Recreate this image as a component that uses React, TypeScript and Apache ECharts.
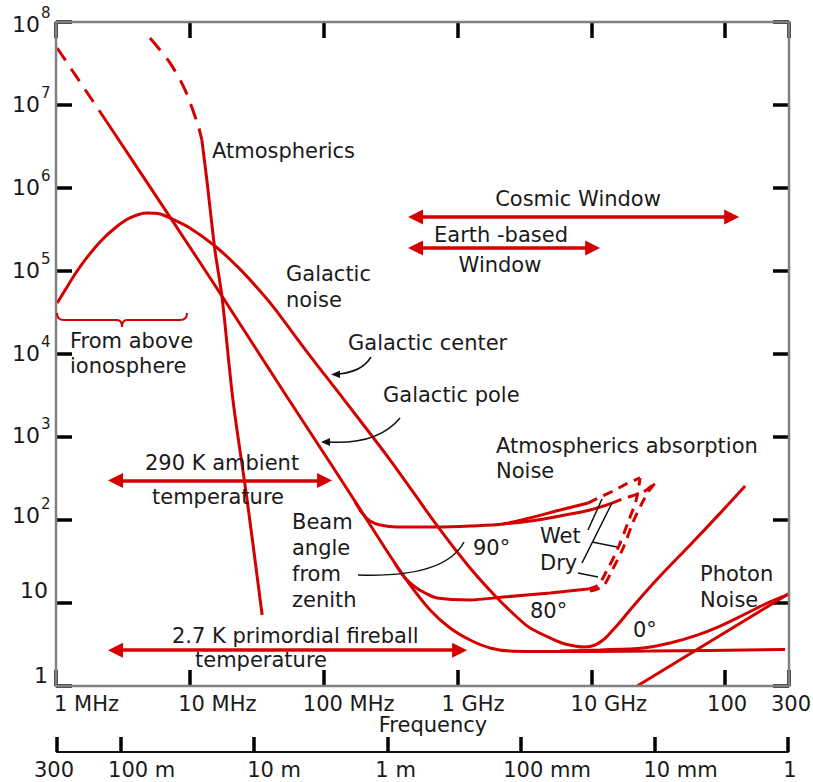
import React, { useEffect, useRef } from "react";
import * as echarts from "echarts";

// ---------------- data: frequency in MHz, noise temperature in K ----------------
const galacticNoise: [number, number][] = [
  [1.02, 41100], [1.17, 59000], [1.39, 92000], [1.65, 136000], [2.13, 224000],
  [2.76, 330000], [3.57, 436000], [4.79, 500000], [5.99, 486000], [7.36, 424000],
  [10.0, 330000], [15.4, 200000], [23.2, 109000], [33.6, 57000], [42.5, 36200],
  [79.1, 9500], [140, 2900], [314, 528],
  [716, 82.4], [1242, 26.4], [1978, 11.5], [2938, 6.24], [3491, 5.0], [4921, 3.79],
  [6370, 3.21], [8990, 2.95], [10670, 3.12], [12250, 3.58],
  [13830, 4.35], [16410, 5.90], [21240, 9.72], [32680, 21.1], [54710, 50.0],
  [91840, 121], [141000, 257],
];
const galacticPoleDashed: [number, number][] = [[1.02, 4.86e7], [2.4, 6.24e6]];
const galacticPole: [number, number][] = [
  [2.4, 6.24e6], [7.36, 4.11e5], [16.8, 5.43e4], [53.3, 3034], [112, 486],
  [211, 100], [314, 36.8], [442, 16.5], [624, 8.24], [880, 5.0], [1242, 3.58],
  [1753, 2.87], [2473, 2.64], [4921, 2.6], [27490, 2.64], [280700, 2.75],
];
const atmosphericsDashed: [number, number][] = [
  [5.04, 6.41e7], [7.11, 3.21e7], [9.21, 1.52e7], [11.5, 5.74e6], [12.3, 3.79e6],
];
const atmospherics: [number, number][] = [
  [12.3, 3.79e6], [13.4, 1.25e6], [15.4, 1.79e5], [17.4, 4.86e4], [21.0, 2790],
  [26.8, 174], [34.7, 7.17],
];
const beam90Wet: [number, number][] = [
  [172, 165], [194, 121], [222, 97.2], [264, 87.1], [354, 82.4], [704, 82.4],
  [1242, 84.7], [2193, 89.5], [3491, 106], [5848, 132], [9460, 160],
];
const beam90Dry: [number, number][] = [
  [2193, 89.5], [3491, 97.2], [5848, 112], [9790, 132], [14300, 160],
];
const beam90WetDashed: [number, number][] = [
  [9460, 160], [11640, 189], [15070, 230], [18840, 279], [23150, 321],
];
const beam90DryDashed: [number, number][] = [
  [14300, 160], [17900, 184], [24380, 217], [29990, 279],
];
const beam80: [number, number][] = [
  [342, 29.5], [406, 20.0], [482, 15.6], [573, 13.2], [704, 11.5], [1242, 10.9],
  [2193, 11.8], [4921, 13.2], [9460, 14.7],
];
const beam80WetDashed: [number, number][] = [
  [9460, 14.7], [11240, 16.5], [12900, 23.6], [15850, 46.0], [18840, 94.6],
  [21630, 174], [23150, 321],
];
const beam80DryDashed: [number, number][] = [
  [9790, 13.9], [12250, 16.0], [14070, 23.6], [17300, 46.0], [20510, 94.6],
  [23550, 152], [26600, 217], [29990, 279],
];
const beam0: [number, number][] = [
  [5848, 2.64], [11640, 2.72], [24380, 2.87], [38810, 3.30], [61760, 4.11],
  [91840, 5.28], [136400, 7.17], [199000, 9.72], [300000, 12.8],
];
const photonNoise: [number, number][] = [[22000, 1.0], [300000, 13]];

// annotation arrows (frequency range in MHz at a temperature in K)
const rangeArrows = [
  { name: "Cosmic Window", from: 486, to: 111900, temp: 4.47e5 },
  { name: "Earth-based Window", from: 486, to: 10230, temp: 1.89e5 },
  { name: "290 K ambient temperature", from: 2.785, to: 101.6, temp: 300 },
  { name: "2.7 K primordial fireball temperature", from: 2.785, to: 1037, temp: 2.7 },
];

// tick labels
const freqTickValues = [1, 10, 100, 1000, 10000, 100000, 300000];
const freqTickLabels = ["1 MHz", "10 MHz", "100 MHz", "1 GHz", "10 GHz", "100", "300"];
const waveTickValues = [300000, 100000, 10000, 1000, 100, 10, 1]; // mm
const waveTickLabels = ["300", "100 m", "10 m", "1 m", "100 mm", "10 mm", "1"];
const tempTickValues = [1, 10, 100, 1000, 10000, 100000, 1000000, 10000000, 100000000];
const tempTickExponents = ["", "", "2", "3", "4", "5", "6", "7", "8"];

// layout tweaks (pixel offsets of labels from their ticks)
const freqLabelDx = [30.5, 27.5, 25, 15.5, 17.5, 2, 2];
const waveLabelDx = [-3, 21, 20, 8, 26, 26, 2];
const tempLabelDy = [-11, -13, -5, -2, -1, -1, -1, -1, 2];

const RED = "#d40000";
const INK = "#1a1a1a";
const FONT = '"DejaVu Sans", Verdana, sans-serif';

echarts.graphic.registerShape(
  "brace",
  echarts.graphic.extendPath(
    "M0,0 C0,5 2,7 7,7 L60,7 C63,7 65,9 65,14 C65,9 67,7 70,7 L123,7 C128,7 130,5 130,0",
    {}
  )
);

function curve(name: string, data: [number, number][], dash?: number[], smooth: number = 0.3): any {
  return {
    name,
    type: "line",
    xAxisIndex: 0,
    yAxisIndex: 0,
    data,
    symbol: "none",
    silent: true,
    smooth,
    lineStyle: { color: RED, width: 3, type: dash ?? "solid", cap: "butt" },
    itemStyle: { color: RED },
    emphasis: { disabled: true },
    z: 3,
  };
}

const mainAxis: any = {
  type: "log",
  logBase: 10,
  axisLine: { show: false },
  axisTick: { show: true, inside: true, length: 16, lineStyle: { color: "#000", width: 3.5 } },
  axisLabel: { show: false },
  splitLine: { show: false },
  minorTick: { show: false },
};

function buildOption(): any {
  const photon = curve("Photon noise", photonNoise, undefined, 0);
  photon.markLine = {
    silent: true,
    symbol: ["triangle", "triangle"],
    symbolSize: [15, 15],
    label: { show: false },
    emphasis: { disabled: true },
    lineStyle: { color: RED, width: 3.5, type: "solid" },
    data: rangeArrows.map((a) => [
      { coord: [a.from, a.temp] },
      { coord: [a.to, a.temp] },
    ]),
  };
  return {
    animation: false,
    backgroundColor: "#ffffff",
    grid: [
      { left: 56, top: 22, width: 733, height: 664, containLabel: false },
      { left: 57, top: 751, width: 731, height: 1, containLabel: false },
    ],
    xAxis: [
      { ...mainAxis, gridIndex: 0, position: "bottom", min: 1, max: 300000 },
      { ...mainAxis, gridIndex: 0, position: "top", min: 1, max: 300000 },
      {
        type: "log",
        logBase: 10,
        gridIndex: 1,
        position: "bottom",
        inverse: true,
        min: 1,
        max: 300000,
        axisLine: { show: true, lineStyle: { color: "#111", width: 2 } },
        axisTick: { show: true, inside: true, length: 15, lineStyle: { color: "#000", width: 3.5 } },
        axisLabel: { show: false },
        splitLine: { show: false },
      },
    ],
    yAxis: [
      { ...mainAxis, gridIndex: 0, position: "left", min: 1, max: 1e8 },
      { ...mainAxis, gridIndex: 0, position: "right", min: 1, max: 1e8 },
      { type: "value", gridIndex: 1, show: false, min: 0, max: 1 },
    ],
    series: [
      curve("Galactic noise", galacticNoise),
      curve("Galactic pole (above ionosphere)", galacticPoleDashed, [15, 10], 0),
      curve("Galactic pole", galacticPole),
      curve("Atmospherics (dashed)", atmosphericsDashed, [16, 10]),
      curve("Atmospherics", atmospherics),
      curve("90° wet", beam90Wet),
      curve("90° dry", beam90Dry),
      curve("90° wet absorption", beam90WetDashed, [10, 7]),
      curve("90° dry absorption", beam90DryDashed, [10, 7]),
      curve("80°", beam80),
      curve("80° wet absorption", beam80WetDashed, [10, 7]),
      curve("80° dry absorption", beam80DryDashed, [10, 7]),
      curve("0°", beam0),
      photon,
    ],
  };
}

function txt(text: string, x: number, y: number, align: string = "left", size: number = 21): any {
  return {
    type: "text",
    x,
    y,
    z: 60,
    silent: true,
    style: { text, fill: INK, font: `${size}px ${FONT}`, align, verticalAlign: "middle" },
  };
}

export default function App() {
  const ref = useRef<HTMLDivElement>(null);
  useEffect(() => {
    document.body.style.margin = "0";
    const chart = echarts.init(ref.current!, null, { renderer: "svg" });
    chart.setOption(buildOption());

    const xp = (v: number) => chart.convertToPixel({ xAxisIndex: 0 }, v) as unknown as number;
    const yp = (v: number) => chart.convertToPixel({ yAxisIndex: 0 }, v) as unknown as number;
    const wp = (v: number) => chart.convertToPixel({ xAxisIndex: 2 }, v) as unknown as number;

    const g: any[] = [];
    const x0 = xp(1), x1 = xp(300000), y0 = yp(1e8), y1 = yp(1);
    g.push({
      type: "rect",
      z: 50,
      silent: true,
      shape: { x: x0, y: y0, width: x1 - x0, height: y1 - y0 },
      style: { fill: "none", stroke: "#808080", lineWidth: 2.5 },
    });

    // frequency tick labels
    freqTickValues.forEach((v, i) => {
      g.push(txt(freqTickLabels[i], xp(v) + freqLabelDx[i], 704, "center"));
    });
    g.push(txt("Frequency", 433, 725, "center"));
    // wavelength tick labels
    waveTickValues.forEach((v, i) => {
      g.push(txt(waveTickLabels[i], wp(v) + waveLabelDx[i], 770, "center"));
    });
    // temperature tick labels
    tempTickValues.forEach((v, i) => {
      const py = yp(v) + tempLabelDy[i];
      const e = tempTickExponents[i];
      if (!e) {
        g.push(txt(v === 1 ? "1" : "10", 48, py, "right", 22));
      } else {
        g.push(txt("10", 40, py, "right", 22));
        g.push(txt(e, 41, py - 11, "left", 15));
      }
    });

    // annotation texts
    const notes: [string, number, number, string?][] = [
      ["Atmospherics", 212, 151],
      ["Cosmic Window", 578, 199, "center"],
      ["Earth -based", 501, 235, "center"],
      ["Window", 500, 265, "center"],
      ["Galactic", 286, 274],
      ["noise", 286, 300],
      ["Galactic center", 348, 343],
      ["Galactic pole", 383, 395],
      ["Atmospherics absorption", 496, 446],
      ["Noise", 496, 471],
      ["290 K ambient", 145, 463],
      ["temperature", 152, 497],
      ["2.7 K primordial fireball", 172, 636],
      ["temperature", 195, 660],
      ["From above", 70, 341],
      ["ionosphere", 70, 366],
      ["Beam", 292, 522],
      ["angle", 292, 548],
      ["from", 292, 574],
      ["zenith", 292, 600],
      ["90°", 473, 548],
      ["80°", 530, 611],
      ["Wet", 540, 536],
      ["Dry", 540, 563],
      ["0°", 633, 630],
      ["Photon", 700, 574],
      ["Noise", 700, 600],
    ];
    notes.forEach(([t, x, y, a]) => g.push(txt(t, x, y, a ?? "left")));

    // brace under "From above ionosphere"
    g.push({
      type: "brace",
      x: 57,
      y: 313,
      z: 55,
      silent: true,
      style: { fill: "none", stroke: RED, lineWidth: 2 },
    });

    // black pointers
    const thin = { stroke: "#111", lineWidth: 1.5, fill: "none" };
    g.push({ type: "bezierCurve", z: 55, silent: true, shape: { x1: 371, y1: 357, x2: 338, y2: 374, cpx1: 362, cpy1: 372 }, style: thin });
    g.push({ type: "polygon", z: 55, silent: true, shape: { points: [[331, 374.5], [340, 370.5], [340, 378]] }, style: { fill: "#111" } });
    g.push({ type: "bezierCurve", z: 55, silent: true, shape: { x1: 400, y1: 418, x2: 328, y2: 442, cpx1: 378, cpy1: 445 }, style: thin });
    g.push({ type: "polygon", z: 55, silent: true, shape: { points: [[321, 442], [330, 438], [330, 446]] }, style: { fill: "#111" } });
    g.push({ type: "bezierCurve", z: 55, silent: true, shape: { x1: 358, y1: 575, x2: 464, y2: 542, cpx1: 445, cpy1: 578 }, style: thin });
    g.push({ type: "line", z: 55, silent: true, shape: { x1: 588, y1: 530, x2: 602, y2: 499 }, style: thin });
    g.push({ type: "line", z: 55, silent: true, shape: { x1: 592, y1: 542, x2: 617, y2: 547 }, style: thin });
    g.push({ type: "line", z: 55, silent: true, shape: { x1: 582, y1: 563, x2: 612, y2: 503 }, style: thin });
    g.push({ type: "line", z: 55, silent: true, shape: { x1: 578, y1: 573, x2: 598, y2: 577 }, style: thin });

    chart.setOption({ graphic: g });
    return () => chart.dispose();
  }, []);
  return (
    <div
      ref={ref}
      style={{ position: "absolute", left: 0, top: 0, width: 813, height: 782 }}
    />
  );
}
